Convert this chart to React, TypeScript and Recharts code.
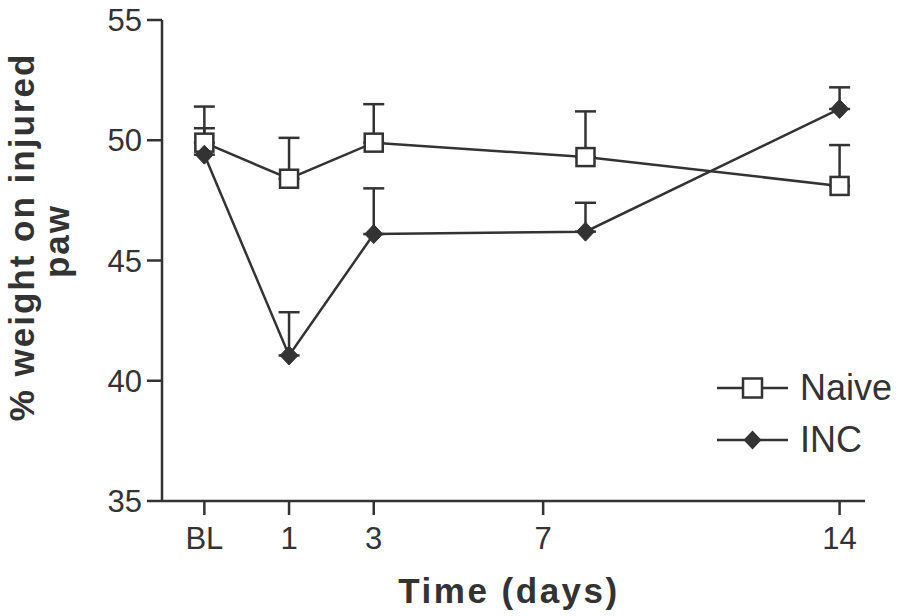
import React from 'react';
import { LineChart, Line, XAxis, YAxis, ErrorBar, Legend } from 'recharts';

// sampling days (BL plotted at -1, the "7" group sits at day 8)
const days = [-1, 1, 3, 8, 14];
const xTicks = [-1, 1, 3, 7, 14];
const xTickLabels = ['BL', '1', '3', '7', '14'];
const yTicks = [35, 40, 45, 50, 55];

const naive = [49.9, 48.4, 49.9, 49.3, 48.1];
const naiveSem = [0.6, 1.7, 1.6, 1.9, 1.7];
const inc = [49.4, 41.05, 46.1, 46.2, 51.3];
const incSem = [2.0, 1.8, 1.9, 1.2, 0.9];

const seriesOrder = ['naive', 'inc'];

const rows = days.map((d, i) => ({
  day: d,
  naive: naive[i],
  naiveErr: [0, naiveSem[i]],
  inc: inc[i],
  incErr: [0, incSem[i]],
}));

const INK = '#333333';
const FONT = '"Liberation Sans", Arial, Helvetica, sans-serif';

const SquareDot = (props: any) => {
  const { cx, cy } = props;
  if (cx == null || cy == null) return null;
  return <rect x={cx - 9} y={cy - 9} width={18} height={18} fill="#fff" stroke={INK} strokeWidth={2.5} />;
};

const DiamondDot = (props: any) => {
  const { cx, cy } = props;
  if (cx == null || cy == null) return null;
  return (
    <polygon
      points={`${cx},${cy - 9.5} ${cx + 9},${cy} ${cx},${cy + 9.5} ${cx - 9},${cy}`}
      fill={INK}
      stroke={INK}
      strokeWidth={1}
    />
  );
};

const renderYLabel = () => (
  <g fontFamily={FONT} fontWeight="bold" fontSize={35} fill={INK}>
    <text x={34} y={237} textAnchor="middle" letterSpacing={2} transform="rotate(-90, 34, 237)">
      % weight on injured
    </text>
    <text x={69} y={241} textAnchor="middle" letterSpacing={2} transform="rotate(-90, 69, 241)">
      paw
    </text>
  </g>
);

const renderXLabel = () => (
  <text x={509} y={603} textAnchor="middle" fontFamily={FONT} fontWeight="bold" fontSize={35} letterSpacing={2.5} fill={INK}>
    Time (days)
  </text>
);

const renderLegend = (props: any) => {
  const payload = [...(props.payload || [])].sort(
    (a: any, b: any) => seriesOrder.indexOf(a.dataKey) - seriesOrder.indexOf(b.dataKey)
  );
  return (
    <svg width={190} height={100} style={{ display: 'block' }}>
      {payload.map((entry: any, i: number) => {
        const cy = i === 0 ? 28 : 80;
        const cx = 42.5;
        return (
          <g key={entry.value}>
            <line x1={7} y1={cy} x2={78} y2={cy} stroke={INK} strokeWidth={2.5} />
            {entry.dataKey === 'naive' ? (
              <rect x={cx - 9.5} y={cy - 9.5} width={19} height={19} fill="#fff" stroke={INK} strokeWidth={2.5} />
            ) : (
              <polygon points={`${cx},${cy - 9.5} ${cx + 9},${cy} ${cx},${cy + 9.5} ${cx - 9},${cy}`} fill={INK} />
            )}
            <text x={90} y={cy + 12} fontFamily={FONT} fontSize={36} fill={INK}>
              {entry.value}
            </text>
          </g>
        );
      })}
    </svg>
  );
};

export default function App() {
  return (
    <div style={{ position: 'absolute', left: 0, top: 0, background: '#fff' }}>
      <LineChart width={900} height={616} data={rows} margin={{ top: 20, right: 35, bottom: 0, left: 0 }}>
        <XAxis
          type="number"
          dataKey="day"
          domain={[-2, 14.6]}
          allowDataOverflow
          ticks={xTicks}
          tickFormatter={(v: number) => xTickLabels[xTicks.indexOf(v)] ?? String(v)}
          height={115}
          axisLine={{ stroke: INK, strokeWidth: 2.5 }}
          tickLine={{ stroke: INK, strokeWidth: 2.5 }}
          tickSize={14}
          tickMargin={12}
          tick={{ fill: INK, fontSize: 31, fontFamily: FONT }}
          label={{ content: renderXLabel }}
        />
        <YAxis
          type="number"
          domain={[35, 55]}
          allowDataOverflow
          ticks={yTicks}
          width={162}
          axisLine={{ stroke: INK, strokeWidth: 2.5 }}
          tickLine={{ stroke: INK, strokeWidth: 2.5 }}
          tickSize={15}
          tickMargin={5}
          tick={{ fill: INK, fontSize: 31, fontFamily: FONT }}
          label={{ content: renderYLabel }}
        />
        <Legend
          layout="horizontal"
          verticalAlign="middle"
          align="center"
          content={renderLegend}
          wrapperStyle={{ left: 710, top: 360, width: 190, height: 100 }}
        />
        <Line
          dataKey="naive"
          name="Naive"
          stroke={INK}
          strokeWidth={2.5}
          dot={<SquareDot />}
          activeDot={false}
          isAnimationActive={false}
        >
          <ErrorBar dataKey="naiveErr" direction="y" width={10.5} stroke={INK} strokeWidth={2.5} isAnimationActive={false} />
        </Line>
        <Line
          dataKey="inc"
          name="INC"
          stroke={INK}
          strokeWidth={2.5}
          dot={<DiamondDot />}
          activeDot={false}
          isAnimationActive={false}
        >
          <ErrorBar dataKey="incErr" direction="y" width={10.5} stroke={INK} strokeWidth={2.5} isAnimationActive={false} />
        </Line>
      </LineChart>
    </div>
  );
}
